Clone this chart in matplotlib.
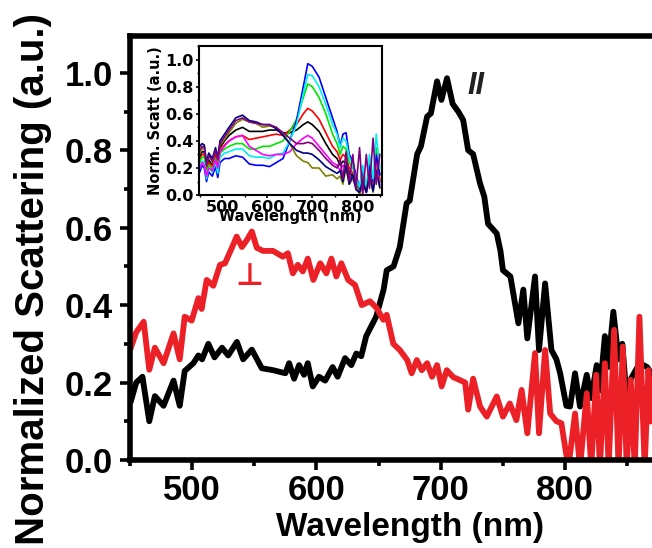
"""Polarized scattering spectra with an inset of intermediate angles."""

import matplotlib
matplotlib.use("Agg")
import matplotlib.pyplot as plt
from matplotlib.ticker import FormatStrFormatter, MultipleLocator

plt.rcParams["font.family"] = ["Liberation Sans", "DejaVu Sans"]
plt.rcParams["font.weight"] = "bold"

# main spectra: parallel (black) and perpendicular (red)
par_wl = [451, 455, 460, 465.5, 470, 477, 485, 490, 494, 501, 505, 508, 513, 518, 524,
          529, 536, 541, 548, 556, 565, 575, 578, 582, 586, 590, 593, 597, 602, 607,
          613, 617, 623, 628, 632, 636, 640, 648, 654, 656.5, 662, 667, 672.5, 675, 681,
          684, 689, 692, 697, 700.5, 705, 709.5, 714, 718, 722, 726, 731.5, 735, 738, 745,
          748, 750, 756, 762.4, 766.4, 769.6, 775.8, 779, 783.9, 789, 793, 796, 801, 804,
          808, 812, 817.4, 821, 825.4, 828, 832, 834.5, 838.8, 843, 846, 849, 853, 860,
          866, 870]
par_val = [0.155, 0.20, 0.215, 0.10, 0.165, 0.14, 0.205, 0.14, 0.23, 0.25, 0.27, 0.26, 0.30,
           0.265, 0.29, 0.27, 0.305, 0.26, 0.285, 0.237, 0.232, 0.224, 0.25, 0.21, 0.245,
           0.22, 0.25, 0.19, 0.215, 0.205, 0.24, 0.215, 0.263, 0.245, 0.275, 0.268, 0.32,
           0.37, 0.44, 0.49, 0.50, 0.55, 0.663, 0.67, 0.79, 0.81, 0.887, 0.895, 0.978, 0.93,
           0.986, 0.92, 0.90, 0.878, 0.80, 0.79, 0.715, 0.68, 0.61, 0.585, 0.54, 0.49, 0.474,
           0.353, 0.44, 0.314, 0.474, 0.284, 0.456, 0.284, 0.26, 0.224, 0.14, 0.138, 0.224,
           0.138, 0.22, 0.16, 0.245, 0.18, 0.32, 0.24, 0.383, 0.26, 0.30, 0.18, 0.21, 0.25,
           0.24, 0.22]

perp_wl = [451, 455, 461, 465.5, 470, 477, 485, 490, 494, 499.6, 505, 507.6, 511.7, 517,
           522.4, 526.4, 531.8, 535.8, 540, 544, 548, 552, 557, 565, 573, 577, 581, 585,
           589, 593, 597.5, 603, 608, 612, 616, 620, 625.5, 631, 636.4, 643, 648.5, 653.8,
           656.5, 661.8, 667, 673, 676.6, 680.7, 684.7, 689, 693, 697, 700.7, 704.8, 710,
           715.6, 719.6, 722, 726, 731.6, 737, 745, 750, 755.5, 760.8, 765, 769.6, 775.8,
           779, 783.9, 788, 793, 797, 802.6, 808, 812, 817.4, 821, 825, 828, 832, 835,
           839.4, 843, 846.4, 849.6, 852.8, 856, 859.8, 864, 867, 870]
perp_val = [0.293, 0.33, 0.357, 0.233, 0.29, 0.25, 0.327, 0.26, 0.37, 0.36, 0.418, 0.39,
            0.465, 0.45, 0.504, 0.508, 0.547, 0.577, 0.55, 0.568, 0.59, 0.548, 0.54, 0.54,
            0.525, 0.534, 0.482, 0.504, 0.487, 0.52, 0.465, 0.508, 0.482, 0.52, 0.474, 0.508,
            0.465, 0.452, 0.40, 0.41, 0.392, 0.362, 0.375, 0.30, 0.284, 0.258, 0.224, 0.258,
            0.232, 0.25, 0.215, 0.245, 0.19, 0.232, 0.214, 0.206, 0.20, 0.13, 0.21, 0.138,
            0.112, 0.164, 0.112, 0.146, 0.103, 0.181, 0.069, 0.276, 0.069, 0.284, 0.12, 0.10,
            0.095, -0.02, 0.12, -0.02, 0.172, -0.02, 0.22, -0.02, 0.25, -0.02, 0.336, -0.02,
            0.293, -0.02, 0.207, -0.02, 0.37, -0.02, 0.232, 0.10]

# inset: spectra at intermediate polarizer angles
inset_wl = [450, 455, 460, 465, 470, 478, 485, 490, 495, 505, 515, 530, 545, 560, 575, 590,
            605, 620, 635, 650, 665, 680, 690, 700, 715, 730, 745, 755, 762, 768, 775, 782,
            790, 797, 805, 812, 820, 827, 835, 842, 850]
inset_black = [.28, .32, .32, .18, .26, .22, .30, .23, .35, .40, .44, .48, .50, .47, .47, .47,
               .48, .48, .46, .46, .48, .52, .54, .52, .47, .38, .30, .27, .22, .25, .24, .17,
               .14, .08, .02, .12, .03, .18, .05, .25, .10]
inset_red = [.26, .30, .30, .16, .24, .21, .29, .21, .33, .37, .40, .43, .44, .41, .42, .43,
             .44, .45, .44, .48, .52, .60, .64, .62, .56, .46, .36, .32, .26, .30, .28, .20,
             .16, .10, .03, .15, .03, .20, .06, .28, .12]
inset_green = [.24, .28, .28, .15, .22, .19, .27, .19, .31, .34, .36, .38, .38, .34, .34, .36,
               .36, .38, .40, .47, .56, .72, .82, .80, .72, .60, .45, .38, .30, .36, .34, .24,
               .20, .12, .04, .18, .04, .25, .10, .35, .15]
inset_blue = [.17, .22, .20, .10, .17, .14, .21, .13, .24, .27, .27, .29, .28, .23, .22, .22,
              .21, .24, .27, .40, .55, .80, .97, .95, .87, .72, .57, .47, .36, .45, .46, .30,
              .25, .15, .05, .20, .02, .22, .10, .30, .15]
inset_cyan = [.20, .25, .24, .12, .20, .17, .24, .16, .28, .31, .32, .34, .34, .29, .28, .28,
              .27, .30, .31, .40, .52, .75, .89, .88, .80, .67, .52, .45, .35, .42, .40, .28,
              .22, .12, .06, .22, .05, .30, .12, .45, .20]
inset_magenta = [.20, .24, .22, .14, .20, .18, .26, .20, .32, .36, .40, .43, .44, .36, .33,
                 .30, .29, .30, .30, .32, .38, .42, .44, .42, .36, .30, .24, .22, .18, .22,
                 .20, .14, .12, .06, .02, .10, .02, .15, .04, .22, .08]
inset_olive = [.31, .34, .36, .22, .30, .25, .33, .25, .37, .41, .46, .53, .56, .54, .53, .50,
               .51, .50, .45, .38, .29, .25, .24, .20, .20, .14, .15, .12, .14, .08, .20, .08,
               .12, .08, .00, .10, .02, .15, .02, .20, .05]
inset_navy = [.36, .38, .37, .24, .31, .27, .35, .28, .40, .45, .50, .57, .59, .55, .54, .52,
              .52, .49, .44, .38, .33, .31, .31, .30, .26, .21, .18, .16, .18, .10, .22, .08,
              .15, .04, .02, .10, .02, .15, .03, .18, .06]
inset_purple = [.33, .36, .35, .22, .29, .25, .33, .26, .38, .43, .48, .55, .57, .54, .53,
                .52, .52, .50, .46, .42, .38, .38, .39, .38, .33, .27, .22, .20, .26, .12,
                .32, .10, .30, .05, .35, .00, .30, .05, .42, .08, .30]

inset_series = [
    (inset_black, "#000000"),
    (inset_red, "#ff0000"),
    (inset_green, "#00e600"),
    (inset_blue, "#0000ff"),
    (inset_cyan, "#00f0f0"),
    (inset_magenta, "#ff00ff"),
    (inset_olive, "#808000"),
    (inset_navy, "#000080"),
    (inset_purple, "#800080"),
]

fig = plt.figure(figsize=(6.52, 5.48), dpi=100)
ax = fig.add_axes([0.1994, 0.1606, 0.858, 0.7737])
ax.plot(par_wl, par_val, color="black", linewidth=4.2, solid_joinstyle="round")
ax.plot(perp_wl, perp_val, color="#ec2027", linewidth=4.2, solid_joinstyle="round")
ax.set_xlim(450, 900)
ax.set_ylim(0, 1.095)
ax.set_xticks([500, 600, 700, 800])
ax.xaxis.set_minor_locator(MultipleLocator(50))
ax.yaxis.set_major_locator(MultipleLocator(0.2))
ax.yaxis.set_minor_locator(MultipleLocator(0.1))
ax.yaxis.set_major_formatter(FormatStrFormatter("%.1f"))
for spine in ax.spines.values():
    spine.set_linewidth(4)
ax.tick_params(which="major", direction="out", length=7, width=2.6, labelsize=25)
ax.tick_params(axis="x", which="major", pad=3)
ax.tick_params(axis="y", which="major", pad=5.5)
ax.tick_params(which="minor", direction="out", length=4.5, width=2.6)
for lab in ax.get_xticklabels() + ax.get_yticklabels():
    lab.set_fontweight("bold")
ax.set_xlabel("Wavelength (nm)", fontsize=24, fontweight="bold", labelpad=3.5)
ax.set_ylabel("Normalized Scattering (a.u.)", fontsize=29, fontweight="bold")
# the reference centres this label a little below the axes middle
ax.yaxis.set_label_coords(-0.1395, 0.427)

ax.text(728, 0.965, "II", fontsize=22, fontweight="bold", style="italic", color="#222222",
        ha="center", va="center")
ax.text(546, 0.475, "\u22a5", fontsize=22, color="#ec2027", ha="center", va="center",
        family="DejaVu Sans")

ins = fig.add_axes([0.305, 0.644, 0.281, 0.272])
for values, color in inset_series:
    ins.plot(inset_wl, values, color=color, linewidth=1.2)
ins.set_xlim(448, 855)
ins.set_ylim(0, 1.1)
ins.xaxis.set_major_locator(MultipleLocator(100))
ins.xaxis.set_minor_locator(MultipleLocator(50))
ins.yaxis.set_major_locator(MultipleLocator(0.2))
ins.yaxis.set_minor_locator(MultipleLocator(0.1))
ins.yaxis.set_major_formatter(FormatStrFormatter("%.1f"))
for spine in ins.spines.values():
    spine.set_linewidth(1.5)
ins.tick_params(which="major", direction="out", length=2.5, width=1.2, labelsize=11.5, pad=1)
ins.tick_params(which="minor", direction="out", length=1.5, width=1)
for lab in ins.get_xticklabels() + ins.get_yticklabels():
    lab.set_fontweight("bold")
    lab.set_family("DejaVu Sans")
ins.set_xlabel("Wavelength (nm)", fontsize=10.5, fontweight="bold", family="DejaVu Sans",
               labelpad=-4)
ins.set_ylabel("Norm. Scatt (a.u.)", fontsize=10.5, fontweight="bold", family="DejaVu Sans",
               labelpad=2)

fig.savefig("out.png", dpi=100)
